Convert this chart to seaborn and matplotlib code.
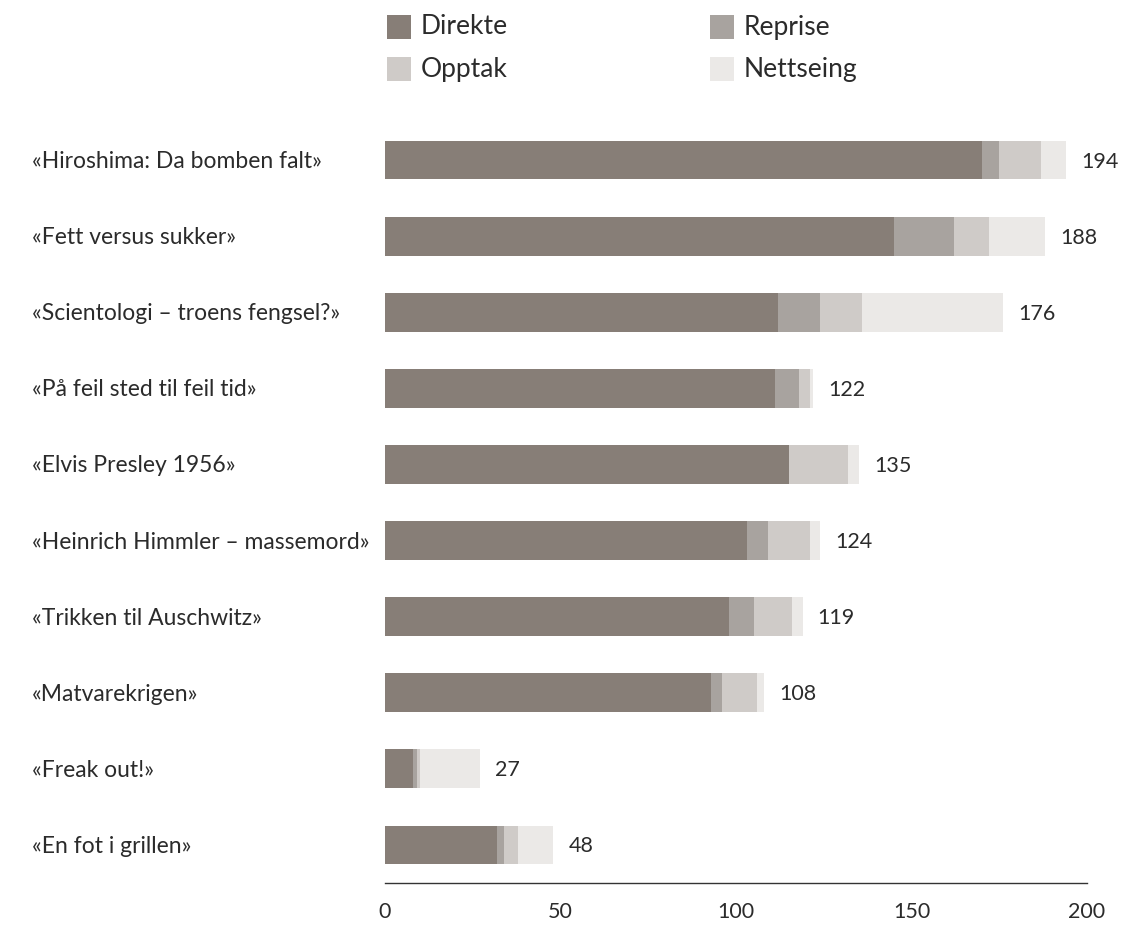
import matplotlib
matplotlib.use("Agg")
import matplotlib.pyplot as plt
from matplotlib.patches import Rectangle
import seaborn as sns
import pandas as pd
import numpy as np

programmes = [
    "«Hiroshima: Da bomben falt»",
    "«Fett versus sukker»",
    "«Scientologi – troens fengsel?»",
    "«På feil sted til feil tid»",
    "«Elvis Presley 1956»",
    "«Heinrich Himmler – massemord»",
    "«Trikken til Auschwitz»",
    "«Matvarekrigen»",
    "«Freak out!»",
    "«En fot i grillen»",
]
direkte = [170, 145, 112, 111, 115, 103, 98, 93, 8, 32]
reprise = [5, 17, 12, 7, 0, 6, 7, 3, 1, 2]
opptak = [12, 10, 12, 3, 17, 12, 11, 10, 1, 4]
nettseing = [7, 16, 40, 1, 3, 3, 3, 2, 17, 10]
totals = [194, 188, 176, 122, 135, 124, 119, 108, 27, 48]

series_names = ["Direkte", "Reprise", "Opptak", "Nettseing"]
colors = ["#877e77", "#a8a39f", "#cfcbc8", "#ebe9e7"]
xticks = [0, 50, 100, 150, 200]

sns.set_theme(style="white")
plt.rcParams["font.family"] = ["Lato", "DejaVu Sans"]
TEXT = "#2b2b2b"

df = pd.DataFrame({
    "program": programmes,
    "Direkte": direkte,
    "Reprise": reprise,
    "Opptak": opptak,
    "Nettseing": nettseing,
})
stack = np.cumsum(df[series_names].to_numpy(), axis=1)

W, H = 1141, 926
fig = plt.figure(figsize=(W / 100, H / 100), dpi=100)
ax = fig.add_axes([385 / W, 1 - 883 / H, (1087 - 385) / W, (883 - 122) / H])

# Draw the cumulative layers from the outermost inwards so they stack
for i in reversed(range(len(series_names))):
    sns.barplot(x=stack[:, i], y=df["program"], orient="h", color=colors[i],
                width=0.51, saturation=1, ax=ax, edgecolor="none", linewidth=0)

for yi, tot in enumerate(totals):
    ax.text(stack[yi, -1] + 4.3, yi + 0.02, f"{tot}", va="center", ha="left",
            fontsize=15.5, color=TEXT)

ax.set_xlim(0, 200)
ax.set_ylim(9.5, -0.5)
ax.set_xticks(xticks)
ax.set_xticklabels([str(t) for t in xticks], fontsize=15.5, color=TEXT)
ax.tick_params(axis="x", length=0, pad=14)
ax.tick_params(axis="y", length=0)
ax.set_yticklabels([])
ax.set_xlabel("")
ax.set_ylabel("")
for yi, name in enumerate(programmes):
    ax.annotate(name, xy=(0, yi + 0.02), xycoords=("figure fraction", "data"),
                xytext=(32, 0), textcoords="offset pixels",
                va="center", ha="left", fontsize=16.5, color=TEXT)

sns.despine(ax=ax, left=True, top=True, right=True)
ax.spines["bottom"].set_color("#333333")
ax.spines["bottom"].set_linewidth(1)

# Two-by-two legend above the bars
legend_pos = {"Direkte": (387, 27), "Reprise": (710, 27),
              "Opptak": (387, 69), "Nettseing": (710, 69)}
for name, col in zip(series_names, colors):
    px, py = legend_pos[name]
    fig.add_artist(Rectangle((px / W, 1 - (py + 12) / H), 24 / W, 24 / H,
                             transform=fig.transFigure, facecolor=col,
                             edgecolor="none"))
    fig.text((px + 34) / W, 1 - py / H, name, va="center", ha="left",
             fontsize=19, color=TEXT)

fig.savefig("out.png", dpi=100, facecolor="white")
